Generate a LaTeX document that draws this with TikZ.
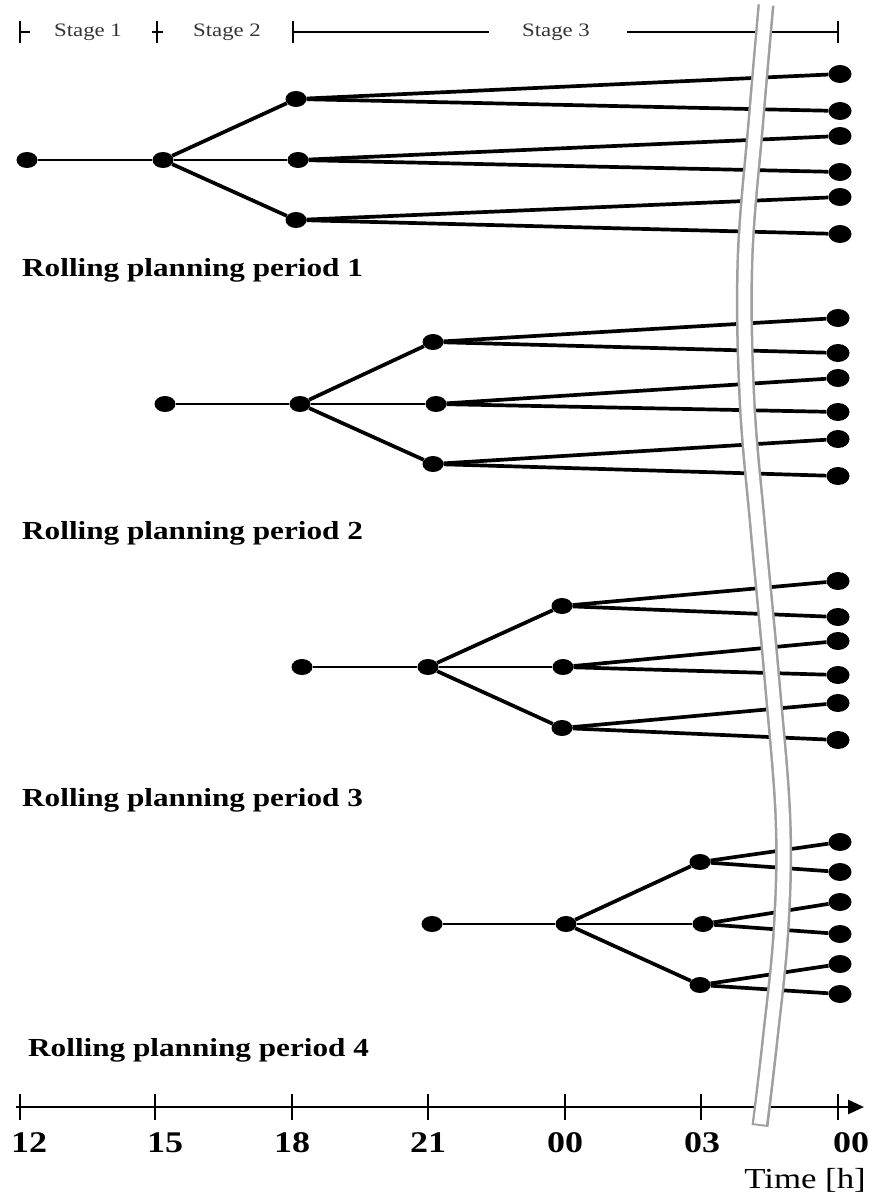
\documentclass[tikz,border=0pt]{standalone}
\usepackage{fontspec}
\setmainfont{Liberation Serif}
\newfontfamily\wide[FakeStretch=1.2]{Liberation Serif}
\usetikzlibrary{shapes.geometric,arrows.meta}
\begin{document}
\begin{tikzpicture}[x=1pt,y=-1pt,
  dot/.style={ellipse, fill=black, inner sep=0pt, minimum width=21pt, minimum height=16pt},
  leaf/.style={dot, minimum width=23pt, minimum height=18pt},
  light/.style={line width=1.7pt},
  heavy/.style={line width=3.7pt},
  lbl/.style={anchor=west, inner sep=0pt, font=\fontsize{26}{26}\wide\bfseries},
  num/.style={inner sep=0pt, font=\fontsize{30}{30}\wide\bfseries},
  stg/.style={inner sep=0pt, text=black!80, font=\fontsize{19}{19}\wide},
  band/.style={line width=17pt, draw=gray!75, line cap=butt},
  bandin/.style={line width=12pt, draw=white, line cap=butt},
  ]
\useasboundingbox (0,0) rectangle (868,1193);

% ---------- Tree 1 ----------
\node[dot] (t1r) at (27,160) {};
\node[dot] (t1n) at (163,160) {};
\node[dot] (t1a) at (296,99) {};
\node[dot] (t1b) at (298,160) {};
\node[dot] (t1c) at (296,220) {};
\foreach \i/\y in {1/74,2/111,3/136,4/172,5/197,6/234} \node[leaf] (t1l\i) at (840,\y) {};
% ---------- Tree 2 ----------
\node[dot] (t2r) at (165,404) {};
\node[dot] (t2n) at (300,404) {};
\node[dot] (t2a) at (433,342) {};
\node[dot] (t2b) at (436,404) {};
\node[dot] (t2c) at (433,464) {};
\foreach \i/\y in {1/318,2/353,3/378,4/412,5/439,6/476} \node[leaf] (t2l\i) at (838,\y) {};
% ---------- Tree 3 ----------
\node[dot] (t3r) at (302,667) {};
\node[dot] (t3n) at (428,667) {};
\node[dot] (t3a) at (562,606) {};
\node[dot] (t3b) at (563,667) {};
\node[dot] (t3c) at (562,728) {};
\foreach \i/\y in {1/581,2/617,3/641,4/675,5/703,6/740} \node[leaf] (t3l\i) at (838,\y) {};
% ---------- Tree 4 ----------
\node[dot] (t4r) at (432,924) {};
\node[dot] (t4n) at (566,924) {};
\node[dot] (t4a) at (700,862) {};
\node[dot] (t4b) at (703,924) {};
\node[dot] (t4c) at (700,985) {};
\foreach \i/\y in {1/842,2/872,3/902,4/934,5/964,6/994} \node[leaf] (t4l\i) at (840,\y) {};

\foreach \t in {1,2,3,4}{
  \draw[light] (t\t r) -- (t\t n);
  \draw[light] (t\t n) -- (t\t b);
  \draw[heavy] (t\t n) -- (t\t a);
  \draw[heavy] (t\t n) -- (t\t c);
  \draw[heavy] (t\t a) -- (t\t l1);
  \draw[heavy] (t\t a) -- (t\t l2);
  \draw[heavy] (t\t b) -- (t\t l3);
  \draw[heavy] (t\t b) -- (t\t l4);
  \draw[heavy] (t\t c) -- (t\t l5);
  \draw[heavy] (t\t c) -- (t\t l6);
}

% ---------- labels ----------
\node[lbl] (p1) at (22,270) {Rolling planning period 1};
\node[lbl] (p2) at (22,533) {Rolling planning period 2};
\node[lbl] (p3) at (22,800) {Rolling planning period 3};
\node[lbl] (p4) at (28,1050) {Rolling planning period 4};

% ---------- header ----------
\coordinate (h0) at (20,32);
\coordinate (h0s) at (30,32);
\coordinate (h1l) at (152,32);
\coordinate (h1r) at (163,32);
\coordinate (h1) at (157,32);
\coordinate (h2) at (293,32);
\coordinate (h2e) at (489,32);
\coordinate (h3s) at (627,32);
\coordinate (h3) at (838,32);
\draw[light] ([yshift=-11pt]h0) -- ([yshift=11pt]h0);
\draw[light] (h0) -- (h0s);
\draw[light] ([yshift=-11pt]h1) -- ([yshift=11pt]h1);
\draw[light] (h1l) -- (h1r);
\draw[light] ([yshift=-11pt]h2) -- ([yshift=11pt]h2);
\draw[light] (h2) -- (h2e);
\draw[light] (h3s) -- (h3);
\draw[light] ([yshift=-11pt]h3) -- ([yshift=11pt]h3);
\node[stg] (s1) at (88,32) {Stage 1};
\node[stg] (s2) at (227,32) {Stage 2};
\node[stg] (s3) at (556,32) {Stage 3};

% ---------- time axis ----------
\coordinate (ax0) at (16,1107);
\coordinate (ax1) at (864,1107);
\draw[line width=2.7pt, -{Triangle[length=16pt,width=14pt]}] (ax0) -- (ax1);
\foreach \x/\lab/\lx in {20/12/29,155/15/165,292/18/292,428/21/428,565/00/565,701/03/702,838/00/851}{
  \draw[light] (\x,1094) -- (\x,1120);
  \node[num] at (\lx,1143) {\lab};
}
\node[anchor=east, inner sep=0pt, font=\fontsize{29}{29}\wide] (tl) at (866,1180) {Time [h]};

% ---------- break band ----------
\draw[band] plot[smooth, tension=0.6] coordinates {(766,5) (756,120) (745,260) (747,400) (758,530) (772,680) (783,820) (781,930) (770,1040) (760,1126)};
\draw[bandin] plot[smooth, tension=0.6] coordinates {(766,4) (756,120) (745,260) (747,400) (758,530) (772,680) (783,820) (781,930) (770,1040) (760,1124)};
\end{tikzpicture}
\end{document}
